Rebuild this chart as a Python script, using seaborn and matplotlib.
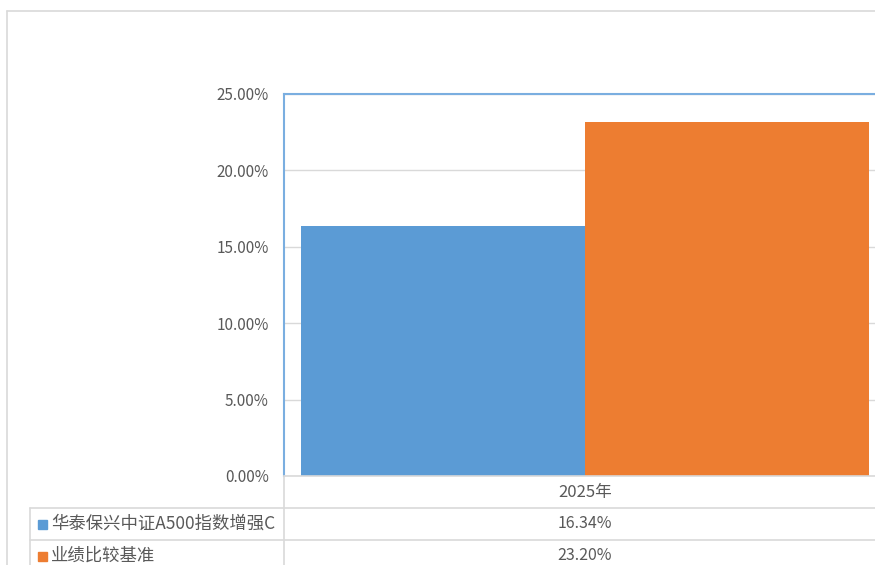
import numpy as np
import pandas as pd
import matplotlib
matplotlib.use("Agg")
import matplotlib.pyplot as plt
import seaborn as sns
from matplotlib.lines import Line2D
from matplotlib.patches import Rectangle

# ---- data ----
categories = ["2025年"]
series = ["华泰保兴中证A500指数增强C", "业绩比较基准"]
values = [16.34, 23.20]
colors = ["#5B9BD5", "#ED7D31"]
yticks = [0, 5, 10, 15, 20, 25]

sns.set_style("white")
plt.rcParams["font.family"] = ["Noto Sans CJK SC", "DejaVu Sans"]

W, H = 875, 565
fig = plt.figure(figsize=(W / 100, H / 100), dpi=100)

def fx(px):
    return px / W

def fy(py):
    return 1 - py / H

GRID = "#d9d9d9"
TXT = "#595959"
AXBLUE = "#7aaee0"

# outer chart frame (cut at right/bottom)
fig.add_artist(Line2D([fx(7), 1.0], [fy(11), fy(11)], color=GRID, lw=1.2))
fig.add_artist(Line2D([fx(7), fx(7)], [fy(11), 0.0], color=GRID, lw=1.2))

# plot area: 284..886 px wide (extends past the right edge), 94..476 px tall
x0, x1, y0, y1 = 284, 886, 94, 476
ax = fig.add_axes([fx(x0), fy(y1), fx(x1 - x0), (y1 - y0) / H])

df = pd.DataFrame({"year": categories * len(series), "series": series, "value": values})
sns.barplot(data=df, x="year", y="value", hue="series", palette=colors,
            width=0.943, saturation=1, linewidth=0, ax=ax, legend=False)

ax.set_xlim(-0.5, 0.5)
ax.set_ylim(0, 25)
ax.set_yticks(yticks)
ax.set_yticklabels([f"{v:.2f}%" for v in yticks], color=TXT, fontsize=11)
ax.tick_params(axis="y", length=0, pad=11)
ax.set_xticks([])
ax.set_xlabel("")
ax.set_ylabel("")
ax.set_axisbelow(True)
ax.yaxis.grid(True, color=GRID, lw=1)
for s in ["right", "bottom"]:
    ax.spines[s].set_visible(False)
for s in ["top", "left"]:
    ax.spines[s].set_color(AXBLUE)
    ax.spines[s].set_linewidth(1.5)

# ---- data table below the plot ----
rows_y = [476, 508, 540]
row_h = 32
# horizontal lines
fig.add_artist(Line2D([fx(284), 1.0], [fy(476), fy(476)], color=GRID, lw=1.2))
fig.add_artist(Line2D([fx(30), 1.0], [fy(508), fy(508)], color=GRID, lw=1.2))
fig.add_artist(Line2D([fx(30), 1.0], [fy(540), fy(540)], color=GRID, lw=1.2))
# vertical lines
fig.add_artist(Line2D([fx(284), fx(284)], [fy(476), 0.0], color=GRID, lw=1.2))
fig.add_artist(Line2D([fx(30), fx(30)], [fy(508), 0.0], color=GRID, lw=1.2))

xc = fx((x0 + x1) / 2)
fig.text(xc, fy(rows_y[0] + row_h / 2), categories[0], ha="center", va="center",
         color=TXT, fontsize=12)
for i, (name, val, col) in enumerate(zip(series, values, colors)):
    yc = rows_y[i + 1] + row_h / 2
    fig.add_artist(Rectangle((fx(38), fy(yc + 5)), fx(9), 9 / H, color=col))
    fig.text(fx(51), fy(yc), name, ha="left", va="center", color=TXT, fontsize=12.5)
    fig.text(xc, fy(yc), f"{val:.2f}%", ha="center", va="center", color=TXT, fontsize=11.5)

fig.savefig("out.png", dpi=100, facecolor="white")
